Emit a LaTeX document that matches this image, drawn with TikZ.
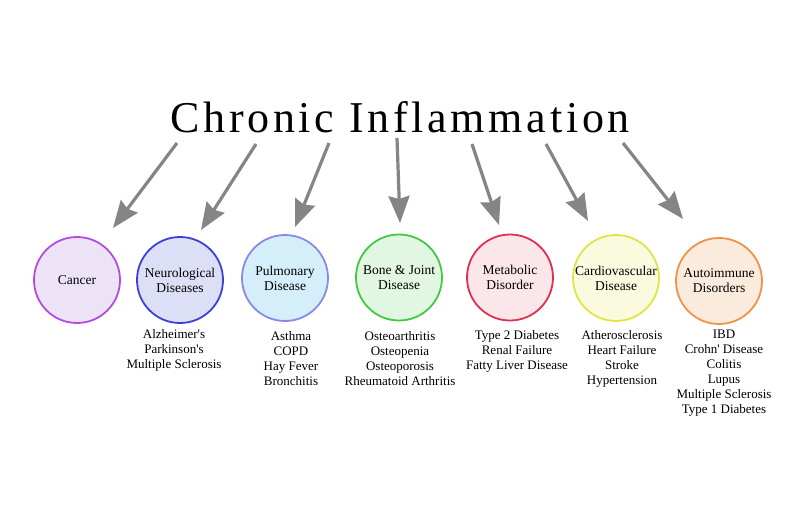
\documentclass[tikz,border=0pt]{standalone}
\usepackage{fontspec}
\setmainfont{Liberation Serif}
\usepackage{xcolor}
\usetikzlibrary{arrows.meta}

\definecolor{arrowgray}{HTML}{858585}
\definecolor{cancerline}{HTML}{B24DE0}
\definecolor{cancerfill}{HTML}{EDE3F6}
\definecolor{neuroline}{HTML}{3F3FD8}
\definecolor{neurofill}{HTML}{DCDFF5}
\definecolor{pulmline}{HTML}{8A8AE6}
\definecolor{pulmfill}{HTML}{D4EEFA}
\definecolor{boneline}{HTML}{44C844}
\definecolor{bonefill}{HTML}{E2F7E2}
\definecolor{metaline}{HTML}{E0304F}
\definecolor{metafill}{HTML}{FBE6EA}
\definecolor{cardioline}{HTML}{E0E448}
\definecolor{cardiofill}{HTML}{FAFADF}
\definecolor{autoline}{HTML}{EE9448}
\definecolor{autofill}{HTML}{FBEBDD}

\begin{document}
\begin{tikzpicture}[
    x=1pt, y=-1pt,
    disease/.style={
        circle,
        line width=1.8pt,
        minimum size=86pt,
        inner sep=0pt,
        align=center,
        font=\fontsize{13.5}{15}\selectfont
    },
    list/.style={
        anchor=north,
        inner sep=0pt,
        align=center,
        font=\fontsize{13}{15}\selectfont
    },
    arrow/.style={-{Stealth[length=27pt,width=21pt,inset=3pt]}, line width=3.2pt, arrowgray}
]
\useasboundingbox (0,0) rectangle (800,520);

% Title
\node[anchor=base, font=\fontsize{44}{50}\selectfont\addfontfeatures{LetterSpace=8.5}] (title) at (400,132) {Chronic Inflammation};

% Disease circles
\node[disease, draw=cancerline, fill=cancerfill] (cancer) at (77,280) {Cancer};
\node[disease, draw=neuroline, fill=neurofill] (neuro) at (180,280) {Neurological\\Diseases};
\node[disease, draw=pulmline, fill=pulmfill] (pulm) at (285,278) {Pulmonary\\Disease};
\node[disease, draw=boneline, fill=bonefill] (bone) at (399,277.5) {Bone \& Joint\\Disease};
\node[disease, draw=metaline, fill=metafill] (meta) at (510,277.5) {Metabolic\\Disorder};
\node[disease, draw=cardioline, fill=cardiofill] (cardio) at (616,278) {Cardiovascular\\Disease};
\node[disease, draw=autoline, fill=autofill] (auto) at (719,281) {Autoimmune\\Disorders};

% Examples under each circle
\node[list] (neurolist) at (174,329) {Alzheimer\textquotesingle s\\Parkinson\textquotesingle s\\Multiple Sclerosis};
\node[list] (pulmlist) at (291,331) {Asthma\\COPD\\Hay Fever\\Bronchitis};
\node[list] (bonelist) at (400,331) {Osteoarthritis\\Osteopenia\\Osteoporosis\\Rheumatoid Arthritis};
\node[list] (metalist) at (517,330) {Type 2 Diabetes\\Renal Failure\\Fatty Liver Disease};
\node[list] (cardiolist) at (622,330) {Atherosclerosis\\Heart Failure\\Stroke\\Hypertension};
\node[list] (autolist) at (724,330) {IBD\\Crohn\textquotesingle{} Disease\\Colitis\\Lupus\\Multiple Sclerosis\\Type 1 Diabetes};

% Arrow ends
\coordinate (s1) at (177,143); \coordinate (t1) at (113,228);
\coordinate (s2) at (256,144); \coordinate (t2) at (201,230);
\coordinate (s3) at (329,143); \coordinate (t3) at (295,227);
\coordinate (s4) at (397,138); \coordinate (t4) at (400,223);
\coordinate (s5) at (472,144); \coordinate (t5) at (499,225);
\coordinate (s6) at (546,144); \coordinate (t6) at (588,221);
\coordinate (s7) at (623,143); \coordinate (t7) at (683,219);

% Arrows
\draw[arrow] (s1) -- (t1);
\draw[arrow] (s2) -- (t2);
\draw[arrow] (s3) -- (t3);
\draw[arrow] (s4) -- (t4);
\draw[arrow] (s5) -- (t5);
\draw[arrow] (s6) -- (t6);
\draw[arrow] (s7) -- (t7);

\end{tikzpicture}
\end{document}
